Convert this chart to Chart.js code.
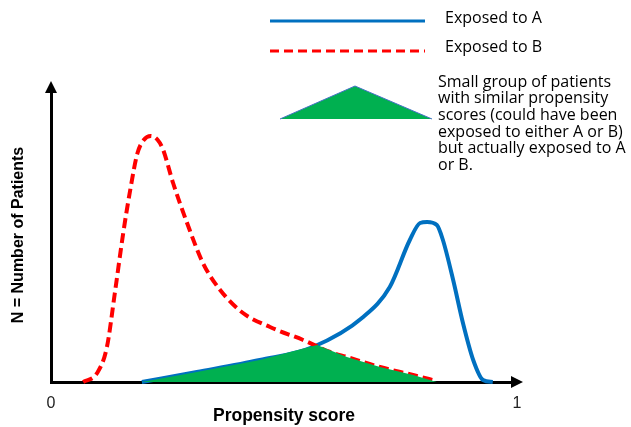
<!DOCTYPE html>
<html lang="en">
<head>
<meta charset="UTF-8" />
<script src="https://cdn.jsdelivr.net/npm/chart.js"></script>
<style>
  body { margin: 0; background: #fff; }
</style>
</head>
<body>
<canvas id="chart" width="631" height="427"></canvas>
<script>
  // series labels and note text
  const seriesNames = ['Exposed to A', 'Exposed to B'];
  const noteLines = [
    'Small group of patients',
    'with similar propensity',
    'scores (could have been',
    'exposed to either A or B)',
    'but actually exposed to A',
    'or B.'
  ];
  const xTicks = [0, 1];

  // Exposed to A (blue)
  const blueX = [0.195, 0.313, 0.448, 0.562, 0.670, 0.727, 0.770, 0.792, 0.807, 0.828, 0.841, 0.863, 0.884, 0.906, 0.927, 0.948];
  const blueY = [0, 10, 22, 35, 65, 95, 142, 159, 160, 157, 142, 102, 59, 22, 2, 0];

  // Exposed to B (red dashed)
  const redX = [0.069, 0.099, 0.120, 0.137, 0.155, 0.170, 0.185, 0.199, 0.214, 0.229, 0.240, 0.262, 0.292, 0.326, 0.363, 0.412, 0.470, 0.541, 0.599, 0.635, 0.706, 0.777, 0.828];
  const redY = [0, 9, 35, 89, 149, 192, 228, 242, 246, 242, 233, 199, 159, 119, 92, 69, 55, 42, 30, 25, 15, 7, 1];

  // overlap region (green)
  const overlapX = [0.195, 0.313, 0.448, 0.571, 0.635, 0.706, 0.777, 0.828];
  const overlapY = [0, 10, 22, 37, 25, 15, 7, 0];

  const BLUE = '#0070C0';
  const RED = '#FF0000';
  const GREEN = '#00B050';

  const pts = (xs, ys) => xs.map((x, i) => ({ x: x, y: ys[i] }));

  const arrows = {
    id: 'arrows',
    afterDraw(chart) {
      const { ctx, chartArea: a } = chart;
      ctx.save();
      ctx.fillStyle = '#000';
      ctx.beginPath();
      ctx.moveTo(a.right + 6, a.bottom);
      ctx.lineTo(a.right - 6, a.bottom - 6);
      ctx.lineTo(a.right - 6, a.bottom + 6);
      ctx.closePath();
      ctx.fill();
      ctx.beginPath();
      ctx.moveTo(a.left, a.top - 7);
      ctx.lineTo(a.left - 6, a.top + 5);
      ctx.lineTo(a.left + 6, a.top + 5);
      ctx.closePath();
      ctx.fill();
      ctx.restore();
    }
  };

  const sketchLegend = {
    id: 'sketchLegend',
    afterDraw(chart) {
      const ctx = chart.ctx;
      ctx.save();
      ctx.lineWidth = 3;
      ctx.strokeStyle = BLUE;
      ctx.beginPath();
      ctx.moveTo(270, 21);
      ctx.lineTo(425, 21);
      ctx.stroke();
      ctx.strokeStyle = RED;
      ctx.setLineDash([9, 5]);
      ctx.beginPath();
      ctx.moveTo(270, 51);
      ctx.lineTo(425, 51);
      ctx.stroke();
      ctx.setLineDash([]);

      ctx.fillStyle = GREEN;
      ctx.beginPath();
      ctx.moveTo(280, 119);
      ctx.lineTo(355, 86);
      ctx.lineTo(432, 119);
      ctx.closePath();
      ctx.fill();
      ctx.lineWidth = 1;
      ctx.strokeStyle = '#4472C4';
      ctx.beginPath();
      ctx.moveTo(280, 119);
      ctx.lineTo(355, 86);
      ctx.lineTo(432, 119);
      ctx.stroke();

      ctx.fillStyle = '#000';
      ctx.font = '16px "Open Sans"';
      ctx.textBaseline = 'middle';
      ctx.fillText(seriesNames[0], 445, 18);
      ctx.fillText(seriesNames[1], 445, 47);
      noteLines.forEach((t, i) => ctx.fillText(t, 438, 82 + i * 16.7));
      ctx.restore();
    }
  };

  new Chart(document.getElementById('chart'), {
    type: 'scatter',
    data: {
      datasets: [
        {
          label: 'overlap',
          data: pts(overlapX, overlapY),
          showLine: true,
          borderWidth: 0,
          pointRadius: 0,
          backgroundColor: GREEN,
          fill: 'origin',
          tension: 0
        },
        {
          label: seriesNames[1],
          data: pts(redX, redY),
          showLine: true,
          borderColor: RED,
          borderWidth: 4,
          borderDash: [10, 5],
          pointRadius: 0,
          cubicInterpolationMode: 'monotone',
          clip: false
        },
        {
          label: seriesNames[0],
          data: pts(blueX, blueY),
          showLine: true,
          borderColor: BLUE,
          borderWidth: 4,
          pointRadius: 0,
          cubicInterpolationMode: 'monotone',
          clip: false
        }
      ]
    },
    options: {
      responsive: false,
      animation: false,
      layout: { padding: { top: 88, right: 114, left: 0, bottom: 0 } },
      plugins: { legend: { display: false }, tooltip: { enabled: false } },
      scales: {
        x: {
          type: 'linear',
          min: 0,
          max: 1,
          afterBuildTicks: s => { s.ticks = xTicks.map(v => ({ value: v })); },
          afterFit: s => { s.height = 45; },
          grid: { display: false, drawTicks: false },
          border: { color: '#000', width: 3 },
          ticks: { padding: 12, color: '#222', font: { family: 'Liberation Sans', size: 16 } },
          title: {
            display: true,
            text: 'Propensity score',
            color: '#000',
            padding: { top: 0, bottom: 0 },
            font: { family: 'Liberation Sans', size: 17.5, weight: 'bold' }
          }
        },
        y: {
          min: 0,
          max: 294,
          afterFit: s => { s.width = 51; },
          grid: { display: false, drawTicks: false },
          border: { color: '#000', width: 3 },
          ticks: { display: false },
          title: {
            display: true,
            text: 'N = Number of Patients',
            color: '#000',
            padding: { top: 9, bottom: 0 },
            font: { family: 'Liberation Sans', size: 16, weight: 'bold' }
          }
        }
      }
    },
    plugins: [arrows, sketchLegend]
  });
</script>
</body>
</html>
